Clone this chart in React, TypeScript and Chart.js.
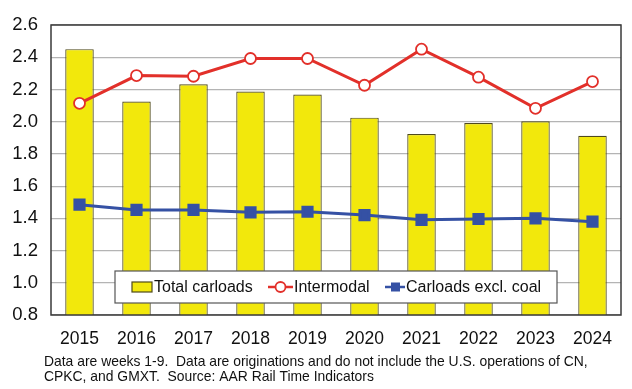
import React, { useEffect, useRef } from "react";
import { Chart, registerables } from "chart.js";

Chart.register(...registerables);

const years = ["2015", "2016", "2017", "2018", "2019", "2020", "2021", "2022", "2023", "2024"];
const totalCarloads = [2.45, 2.125, 2.232, 2.187, 2.168, 2.025, 1.923, 1.991, 2.002, 1.913];
const intermodal = [2.114, 2.286, 2.282, 2.392, 2.392, 2.226, 2.45, 2.276, 2.083, 2.249];
const carloadsExclCoal = [1.485, 1.452, 1.452, 1.437, 1.441, 1.42, 1.391, 1.396, 1.4, 1.379];
const yTicks = [0.8, 1.0, 1.2, 1.4, 1.6, 1.8, 2.0, 2.2, 2.4, 2.6];
const footnoteLines = [
  "Data are weeks 1-9.  Data are originations and do not include the U.S. operations of CN,",
  "CPKC, and GMXT.  Source: AAR Rail Time Indicators",
];

const FONT = "'Liberation Sans', Arial, sans-serif";
const YELLOW = "#f2e80c";
const BAR_BORDER = "#4f4a1c";
const RED = "#e2302a";
const BLUE = "#3551a4";

const framePlugin = {
  id: "frameAndLegend",
  afterDraw(chart: any) {
    const { ctx, chartArea } = chart;
    const { left, right, top, bottom } = chartArea;
    ctx.save();
    // frame
    ctx.strokeStyle = "#3a3a3a";
    ctx.lineWidth = 1.5;
    ctx.strokeRect(left, top, right - left, bottom - top);

    // legend box
    const lx = 115, ly = 271, lw = 442, lh = 32;
    ctx.fillStyle = "#ffffff";
    ctx.fillRect(lx, ly, lw, lh);
    ctx.strokeStyle = "#555555";
    ctx.lineWidth = 1.2;
    ctx.strokeRect(lx, ly, lw, lh);
    const cy = ly + lh / 2;
    ctx.font = `16px ${FONT}`;
    ctx.textBaseline = "middle";
    ctx.textAlign = "left";
    const ds = chart.data.datasets;

    // item 1: bar swatch
    ctx.fillStyle = YELLOW;
    ctx.strokeStyle = BAR_BORDER;
    ctx.lineWidth = 1.2;
    ctx.fillRect(132, cy - 5, 20, 10);
    ctx.strokeRect(132, cy - 5, 20, 10);
    ctx.fillStyle = "#111";
    ctx.fillText(ds[0].label, 154, cy + 1);

    // item 2: intermodal
    ctx.strokeStyle = RED;
    ctx.lineWidth = 2.5;
    ctx.beginPath();
    ctx.moveTo(268, cy);
    ctx.lineTo(293, cy);
    ctx.stroke();
    ctx.fillStyle = "#fff";
    ctx.lineWidth = 1.8;
    ctx.beginPath();
    ctx.arc(280.5, cy, 5, 0, Math.PI * 2);
    ctx.fill();
    ctx.stroke();
    ctx.fillStyle = "#111";
    ctx.fillText(ds[1].label, 294, cy + 1);

    // item 3: carloads excl coal
    ctx.strokeStyle = BLUE;
    ctx.lineWidth = 2.5;
    ctx.beginPath();
    ctx.moveTo(385, cy);
    ctx.lineTo(405, cy);
    ctx.stroke();
    ctx.fillStyle = BLUE;
    ctx.fillRect(391, cy - 4.5, 9, 9);
    ctx.fillStyle = "#111";
    ctx.fillText(ds[2].label, 406, cy + 1);

    // footnote
    ctx.font = `13.9px ${FONT}`;
    ctx.fillStyle = "#111";
    footnoteLines.forEach((line, i) => {
      ctx.fillText(line, 44, 362 + i * 15.5);
    });
    ctx.restore();
  },
};

export default function App() {
  const canvasRef = useRef<HTMLCanvasElement>(null);

  useEffect(() => {
    document.body.style.margin = "0";
    const canvas = canvasRef.current!;
    const chart = new Chart(canvas, {
      type: "bar",
      data: {
        labels: years,
        datasets: [
          {
            type: "bar",
            label: "Total carloads",
            data: totalCarloads,
            backgroundColor: YELLOW,
            borderColor: BAR_BORDER,
            borderWidth: 1.2,
            borderSkipped: "bottom",
            categoryPercentage: 1,
            barPercentage: 0.5,
            order: 3,
          },
          {
            type: "line",
            label: "Intermodal",
            data: intermodal,
            borderColor: RED,
            borderWidth: 3,
            backgroundColor: "#ffffff",
            pointBackgroundColor: "#ffffff",
            pointBorderColor: RED,
            pointBorderWidth: 1.8,
            pointRadius: 5.5,
            pointStyle: "circle",
            tension: 0,
            order: 1,
          },
          {
            type: "line",
            label: "Carloads excl. coal",
            data: carloadsExclCoal,
            borderColor: BLUE,
            borderWidth: 3,
            backgroundColor: BLUE,
            pointBackgroundColor: BLUE,
            pointBorderColor: BLUE,
            pointRadius: 6.5,
            pointStyle: "rect",
            tension: 0,
            order: 2,
          },
        ],
      },
      options: {
        responsive: false,
        animation: false,
        events: [],
        layout: { padding: { left: 0, right: 11, top: 25, bottom: 0 } },
        plugins: {
          legend: { display: false },
          tooltip: { enabled: false },
        },
        scales: {
          x: {
            grid: { display: false, drawTicks: false },
            border: { display: false },
            ticks: {
              padding: 14,
              color: "#111",
              font: { family: FONT, size: 17.5 },
              maxRotation: 0,
            },
            afterFit(scale: any) {
              scale.height = 74;
            },
          },
          y: {
            min: 0.8,
            max: 2.6,
            afterBuildTicks(scale: any) {
              scale.ticks = yTicks.map((v) => ({ value: v }));
            },
            grid: { color: "#b4b4b4", lineWidth: 1.2, drawTicks: false },
            border: { display: false },
            ticks: {
              padding: 13,
              color: "#111",
              font: { family: FONT, size: 18.5 },
              callback: (v: any) => Number(v).toFixed(1),
            },
            afterFit(scale: any) {
              scale.width = 51;
            },
          },
        },
      },
      plugins: [framePlugin],
    });
    return () => chart.destroy();
  }, []);

  return (
    <div style={{ width: 632, height: 389 }}>
      <canvas ref={canvasRef} width={632} height={389} style={{ display: "block" }} />
    </div>
  );
}
